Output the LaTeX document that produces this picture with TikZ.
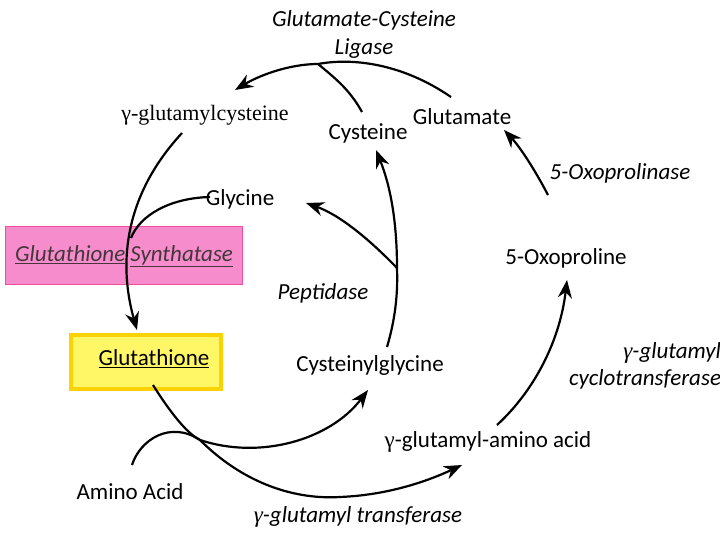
\documentclass[tikz,border=0pt]{standalone}
\usepackage{fontspec}
\setmainfont{Carlito}
\newfontfamily\tms{Liberation Serif}
\usetikzlibrary{arrows.meta}
\begin{document}
\begin{tikzpicture}[x=1pt,y=-1pt,
  lbl/.style={font=\fontsize{23}{27}\selectfont,inner sep=0},
  enz/.style={font=\fontsize{23}{27}\selectfont\itshape,inner sep=0,align=center},
  ln/.style={line width=2.2pt},
  ar/.style={line width=2.2pt,-{Stealth[length=18pt,width=14pt]}}]
\useasboundingbox (0,0) rectangle (720,538);
\node[enz] (gcl) at (364,34) {Glutamate-Cysteine\\[1pt]Ligase};
\node[lbl,font=\fontsize{22}{26}\selectfont\tms] (gc) at (205,115) {γ-glutamylcysteine};
\node[lbl] (cys) at (368,133) {Cysteine};
\node[lbl] (glu) at (462,117) {Glutamate};
\node[lbl] (gly) at (240,199) {Glycine};
\node[draw=magenta!60!pink,fill=magenta!45,minimum width=237,minimum height=58,inner sep=0] (gsbox) at (123.5,255) {};
\node[enz,text=black!85!magenta] (gs) at (124,256) {\underline{Glutathione} \underline{Synthatase}};
\node[draw=yellow!70!orange,line width=4pt,fill=yellow!60,minimum width=150,minimum height=54,inner sep=0] (gtbox) at (146,362) {};
\node[lbl] (gt) at (154,359) {\underline{Glutathione}};
\node[enz] (pep) at (323,293) {Peptidase};
\node[lbl] (cg) at (370,365) {Cysteinylglycine};
\node[enz,align=right] (gct) at (645,366) {{\tms γ}-glutamyl\\cyclotransferase};
\node[enz] (op) at (620,173) {5-Oxoprolinase};
\node[lbl] (oxo) at (566,258) {5-Oxoproline};
\node[lbl] (gaa) at (488,442) {{\tms γ}-glutamyl-amino acid};
\node[lbl] (aa) at (130,492) {Amino Acid};
\node[enz] (gtr) at (358,517) {{\tms γ}-glutamyl transferase};
\coordinate (j1) at (318,64);
\coordinate (j2) at (397,268);
\coordinate (j3) at (200,440);
\coordinate (j4) at (131,238);
\draw[ar] (451,97) .. controls (400,62) and (350,58) .. (j1) .. controls (290,64) and (260,75) .. (235,90);
\draw[ln] (362,112) .. controls (350,90) and (335,78) .. (j1);
\draw[ar] (182,133) .. controls (120,200) and (120,270) .. (137,330);
\draw[ln] (210,197) .. controls (170,198) and (140,215) .. (j4);
\draw[ln] (387,347) .. controls (395,320) and (398,295) .. (j2);
\draw[ar] (j2) .. controls (397,220) and (390,185) .. (376,150);
\draw[ar] (j2) .. controls (370,240) and (340,215) .. (306,203);
\draw[ar] (548,195) .. controls (535,170) and (520,147) .. (504,130);
\draw[ar] (497,425) .. controls (535,390) and (560,340) .. (567,280);
\draw[ar] (153,385) .. controls (175,420) and (190,435) .. (j3) .. controls (260,460) and (330,440) .. (368,390);
\draw[ln] (132,465) .. controls (140,440) and (170,420) .. (j3);
\draw[ar] (j3) .. controls (240,480) and (290,500) .. (340,497) .. controls (390,495) and (430,480) .. (462,465);
\end{tikzpicture}
\end{document}
